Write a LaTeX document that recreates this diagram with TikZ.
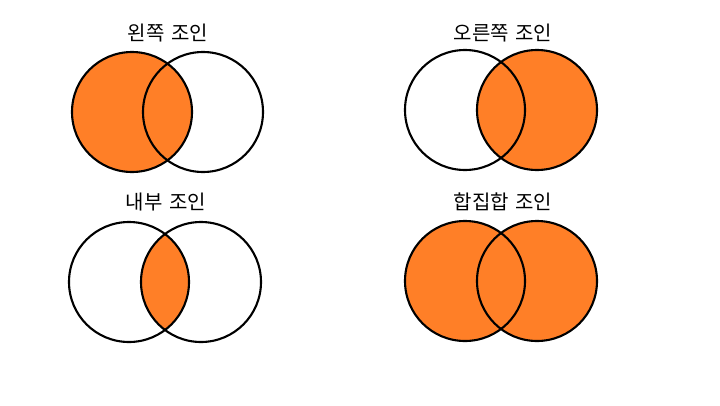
\documentclass[tikz,border=0pt]{standalone}
\usepackage{fontspec}
\newfontfamily\krfont{Noto Sans CJK KR}
\usetikzlibrary{positioning}
\definecolor{joinfill}{HTML}{FF7F27}

\begin{document}
\begin{tikzpicture}[x=1pt,y=-1pt,
 set/.style={draw,circle,line width=2.1pt,minimum size=120pt,inner sep=0pt},
 hit/.style={fill=joinfill},
 ttl/.style={font=\krfont\fontsize{20}{24}\selectfont}]
\useasboundingbox (0,0) rectangle (720,405);
% centres
\coordinate (lc1) at (132,112); \coordinate (lc2) at (203,112);
\coordinate (rc1) at (465,110); \coordinate (rc2) at (537,110);
\coordinate (ic1) at (129,282); \coordinate (ic2) at (201,282);
\coordinate (fc1) at (465,281); \coordinate (fc2) at (537,281);
% filled parts
\fill[hit] (lc1) circle (60pt);
\fill[hit] (rc2) circle (60pt);
\begin{scope}
 \clip (ic1) circle (60pt);
 \fill[hit] (ic2) circle (60pt);
\end{scope}
\fill[hit] (fc1) circle (60pt) (fc2) circle (60pt);
% outlines
\node[set] (la) at (lc1) {};
\node[set] (lb) at (lc2) {};
\node[set] (ra) at (rc1) {};
\node[set] (rb) at (rc2) {};
\node[set] (ia) at (ic1) {};
\node[set] (ib) at (ic2) {};
\node[set] (fa) at (fc1) {};
\node[set] (fb) at (fc2) {};
% titles
\node[ttl] (lt) at (168,33) {왼쪽\hspace{0.1em} 조인};
\node[ttl] (rt) at (503,33) {오른쪽\hspace{0.1em} 조인};
\node[ttl] (it) at (166,202) {내부\hspace{0.1em} 조인};
\node[ttl] (ft) at (503,202) {합집합\hspace{0.1em} 조인};
\end{tikzpicture}
\end{document}
